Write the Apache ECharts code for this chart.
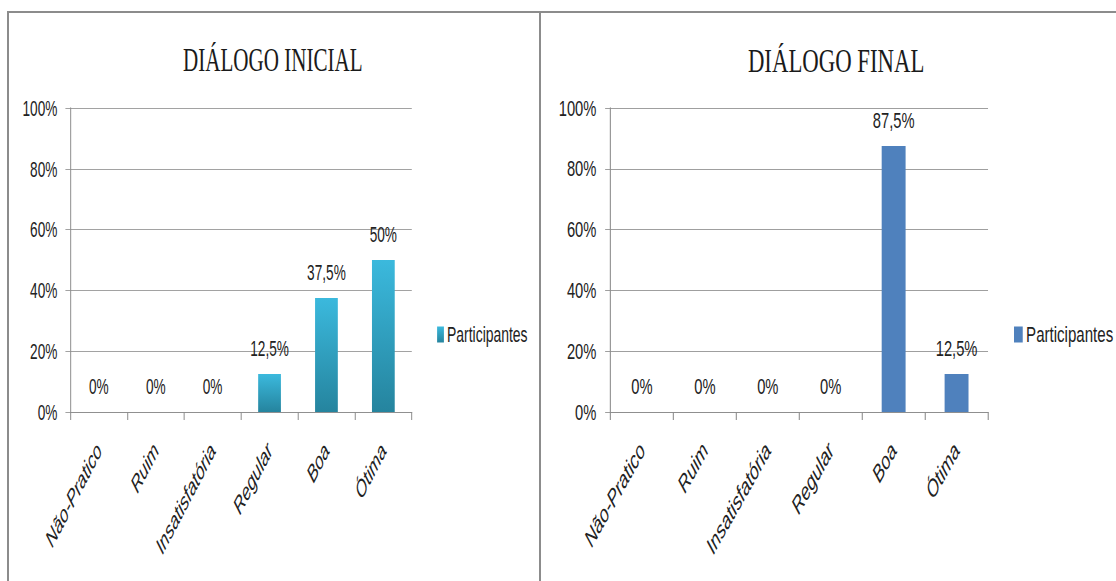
<!DOCTYPE html>
<html>
<head>
<meta charset="utf-8">
<title>Diálogo inicial e final</title>
<script src="https://cdn.jsdelivr.net/npm/echarts@6/dist/echarts.min.js"></script>
<style>
  html, body { margin: 0; padding: 0; background: #fff; width: 1116px; height: 581px; overflow: hidden; position: relative; }
  .chart { position: absolute; top: 0; height: 581px; transform-origin: 0 0; }
  .frame { position: absolute; background: #8c8c8c; }
</style>
</head>
<body>
<div id="inicial" class="chart" style="left:0; width:871px; transform:scaleX(0.62);"></div>
<div id="final" class="chart" style="left:540px; width:860px; transform:scaleX(0.67);"></div>
<div class="frame" style="left:7px; top:11px; width:1109px; height:2px;"></div>
<div class="frame" style="left:7px; top:11px; width:2px; height:570px;"></div>
<div class="frame" style="left:539px; top:11px; width:2px; height:570px;"></div>
<script>
// Categories and percentages of participants per rating
const categories = ['Não-Pratico', 'Ruim', 'Insatisfatória', 'Regular', 'Boa', 'Ótima'];
const dialogoInicial = [0, 0, 0, 12.5, 37.5, 50];
const dialogoFinal = [0, 0, 0, 0, 87.5, 12.5];
const seriesName = 'Participantes';
const yTicks = { min: 0, max: 100, interval: 20 };

const SANS = "'Liberation Sans', Arial, sans-serif";
const SERIF = "'Liberation Serif', 'Times New Roman', serif";
const GRID_GREY = '#8c8c8c';
const TEXT = '#222';

const pct = v => String(v).replace('.', ',') + '%';

function buildOption(cfg) {
  return {
    animation: false,
    title: {
      text: cfg.title,
      left: cfg.titleX,
      top: 38,
      textAlign: 'center',
      textStyle: { fontFamily: SERIF, fontSize: 34, fontWeight: 'normal', color: '#1a1a1a' }
    },
    legend: {
      data: [seriesName],
      left: cfg.legendX,
      top: 323,
      padding: 0,
      icon: 'rect',
      itemWidth: cfg.iconW,
      itemHeight: 16,
      textStyle: { fontFamily: SANS, fontSize: 22.5, color: TEXT }
    },
    grid: { left: cfg.gridL, width: cfg.gridW, top: 108, bottom: 169, containLabel: false },
    xAxis: {
      type: 'category',
      data: categories,
      boundaryGap: true,
      axisLine: { show: true, lineStyle: { color: GRID_GREY, width: 1 } },
      axisTick: { show: true, length: 8, lineStyle: { color: GRID_GREY, width: 1.6 } },
      axisLabel: {
        interval: 0, rotate: 50, margin: 34,
        fontFamily: SANS, fontStyle: 'italic', fontSize: 24, color: TEXT
      }
    },
    yAxis: {
      type: 'value',
      min: yTicks.min, max: yTicks.max, interval: yTicks.interval,
      axisLine: { show: true, lineStyle: { color: GRID_GREY, width: 1.6 } },
      axisTick: { show: true, length: 8, lineStyle: { color: GRID_GREY, width: 1 } },
      splitLine: { show: true, lineStyle: { color: GRID_GREY, width: 1 } },
      axisLabel: {
        formatter: v => v + '%', margin: 21,
        fontFamily: SANS, fontSize: 22, color: TEXT
      }
    },
    series: [{
      name: seriesName,
      type: 'bar',
      data: cfg.data,
      barWidth: cfg.barWidth,
      itemStyle: { color: cfg.color },
      label: {
        show: true, position: 'top', distance: 15,
        formatter: p => pct(p.value),
        fontFamily: SANS, fontSize: 22, color: TEXT
      }
    }]
  };
}

const cyanGradient = {
  type: 'linear', x: 0, y: 0, x2: 0, y2: 1,
  colorStops: [{ offset: 0, color: '#3bb9dd' }, { offset: 1, color: '#25849e' }]
};

const chartInicial = echarts.init(document.getElementById('inicial'), null, { renderer: 'svg' });
chartInicial.setOption(buildOption({
  title: 'DIÁLOGO INICIAL',
  titleX: 435,
  legendX: 705,
  iconW: 11,
  gridL: 113.5,
  gridW: 550.7,
  barWidth: '40%',
  color: cyanGradient,
  data: dialogoInicial
}));

const chartFinal = echarts.init(document.getElementById('final'), null, { renderer: 'svg' });
chartFinal.setOption(buildOption({
  title: 'DIÁLOGO FINAL',
  titleX: 437,
  legendX: 707.5,
  iconW: 13,
  gridL: 105.2,
  gridW: 563.5,
  barWidth: '38%',
  color: '#4f81bd',
  data: dialogoFinal
}));
</script>
</body>
</html>
